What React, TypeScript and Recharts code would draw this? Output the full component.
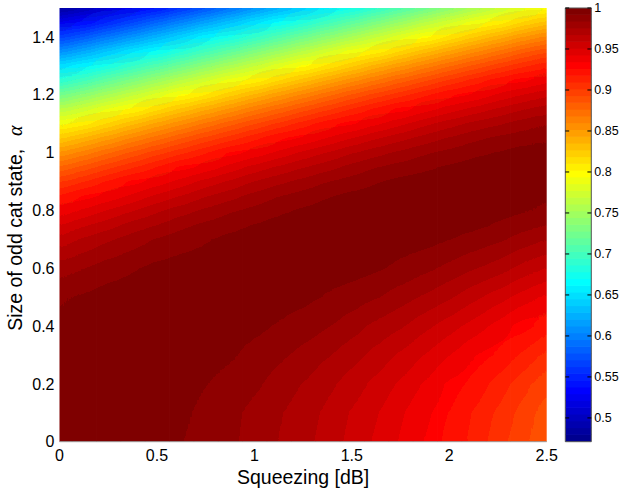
import React from "react";
import { ComposedChart, XAxis, YAxis, ReferenceArea, ReferenceLine, Label } from "recharts";

// ---- data (fidelity vs squeezing [dB] and cat size alpha) ----
const squeezingDb = [0, 0.125, 0.25, 0.375, 0.5, 0.625, 0.75, 0.875, 1, 1.125, 1.25, 1.375, 1.5, 1.625, 1.75, 1.875, 2, 2.125, 2.25, 2.375, 2.5];
const catAlpha = [0, 0.1, 0.2, 0.3, 0.4, 0.5, 0.6, 0.7, 0.75, 0.8, 0.85, 0.9, 0.95, 1, 1.05, 1.1, 1.15, 1.2, 1.25, 1.3, 1.35, 1.4, 1.45, 1.5];

const fidelityAt000 = [1.000, 1.000, 0.999, 0.997, 0.995, 0.992, 0.989, 0.985, 0.980, 0.975, 0.970, 0.963, 0.956, 0.949, 0.941, 0.933, 0.924, 0.915, 0.905, 0.895, 0.885];
const fidelityAt010 = [1.000, 1.000, 0.999, 0.998, 0.996, 0.993, 0.990, 0.986, 0.981, 0.976, 0.971, 0.965, 0.958, 0.951, 0.943, 0.935, 0.926, 0.917, 0.908, 0.898, 0.887];
const fidelityAt020 = [1.000, 1.000, 1.000, 0.999, 0.997, 0.995, 0.992, 0.989, 0.985, 0.980, 0.975, 0.969, 0.963, 0.956, 0.949, 0.941, 0.932, 0.924, 0.914, 0.905, 0.894];
const fidelityAt030 = [0.999, 1.000, 1.000, 1.000, 0.999, 0.997, 0.995, 0.993, 0.989, 0.985, 0.981, 0.976, 0.970, 0.964, 0.957, 0.950, 0.942, 0.934, 0.925, 0.916, 0.906];
const fidelityAt040 = [0.996, 0.998, 0.999, 1.000, 1.000, 0.999, 0.998, 0.997, 0.994, 0.991, 0.988, 0.984, 0.979, 0.973, 0.968, 0.961, 0.954, 0.947, 0.939, 0.930, 0.921];
const fidelityAt050 = [0.990, 0.993, 0.996, 0.998, 0.999, 1.000, 1.000, 1.000, 0.998, 0.997, 0.994, 0.991, 0.988, 0.984, 0.979, 0.974, 0.968, 0.961, 0.954, 0.947, 0.939];
const fidelityAt060 = [0.979, 0.983, 0.988, 0.991, 0.994, 0.997, 0.998, 0.999, 1.000, 1.000, 0.999, 0.998, 0.996, 0.993, 0.990, 0.986, 0.981, 0.976, 0.971, 0.964, 0.958];
const fidelityAt070 = [0.961, 0.968, 0.974, 0.979, 0.984, 0.988, 0.991, 0.994, 0.997, 0.998, 0.999, 1.000, 1.000, 0.999, 0.997, 0.995, 0.992, 0.989, 0.985, 0.980, 0.975];
const fidelityAt075 = [0.949, 0.957, 0.963, 0.970, 0.975, 0.981, 0.985, 0.989, 0.992, 0.995, 0.997, 0.999, 0.999, 1.000, 0.999, 0.998, 0.996, 0.994, 0.991, 0.987, 0.983];
const fidelityAt080 = [0.935, 0.943, 0.951, 0.958, 0.965, 0.971, 0.977, 0.982, 0.986, 0.990, 0.993, 0.996, 0.998, 0.999, 0.999, 0.999, 0.999, 0.997, 0.995, 0.993, 0.989];
const fidelityAt085 = [0.918, 0.927, 0.936, 0.944, 0.952, 0.959, 0.966, 0.972, 0.978, 0.983, 0.987, 0.991, 0.994, 0.996, 0.998, 0.999, 0.999, 0.999, 0.998, 0.996, 0.994];
const fidelityAt090 = [0.898, 0.909, 0.919, 0.928, 0.937, 0.945, 0.953, 0.960, 0.967, 0.973, 0.978, 0.983, 0.987, 0.991, 0.994, 0.996, 0.997, 0.998, 0.999, 0.998, 0.997];
const fidelityAt095 = [0.876, 0.887, 0.898, 0.908, 0.918, 0.928, 0.936, 0.945, 0.953, 0.960, 0.966, 0.972, 0.978, 0.983, 0.987, 0.990, 0.993, 0.995, 0.997, 0.998, 0.998];
const fidelityAt100 = [0.851, 0.863, 0.875, 0.886, 0.897, 0.907, 0.917, 0.927, 0.936, 0.944, 0.952, 0.959, 0.966, 0.972, 0.977, 0.982, 0.986, 0.990, 0.992, 0.995, 0.996];
const fidelityAt105 = [0.823, 0.836, 0.848, 0.861, 0.872, 0.884, 0.895, 0.905, 0.915, 0.925, 0.934, 0.942, 0.950, 0.958, 0.964, 0.970, 0.976, 0.981, 0.985, 0.988, 0.991];
const fidelityAt110 = [0.792, 0.806, 0.819, 0.832, 0.845, 0.857, 0.869, 0.881, 0.892, 0.903, 0.913, 0.923, 0.932, 0.940, 0.948, 0.956, 0.963, 0.969, 0.974, 0.979, 0.983];
const fidelityAt115 = [0.759, 0.773, 0.787, 0.801, 0.815, 0.828, 0.841, 0.853, 0.866, 0.877, 0.889, 0.899, 0.910, 0.920, 0.929, 0.938, 0.946, 0.953, 0.960, 0.966, 0.972];
const fidelityAt120 = [0.723, 0.738, 0.753, 0.767, 0.781, 0.796, 0.809, 0.823, 0.836, 0.849, 0.861, 0.873, 0.885, 0.896, 0.906, 0.916, 0.925, 0.934, 0.943, 0.950, 0.957];
const fidelityAt125 = [0.685, 0.700, 0.716, 0.731, 0.746, 0.761, 0.775, 0.789, 0.803, 0.817, 0.830, 0.843, 0.856, 0.868, 0.880, 0.891, 0.902, 0.912, 0.922, 0.931, 0.939];
const fidelityAt130 = [0.646, 0.661, 0.677, 0.693, 0.708, 0.723, 0.739, 0.754, 0.768, 0.783, 0.797, 0.811, 0.824, 0.838, 0.850, 0.863, 0.875, 0.886, 0.897, 0.907, 0.917];
const fidelityAt135 = [0.605, 0.621, 0.637, 0.653, 0.668, 0.684, 0.700, 0.715, 0.731, 0.746, 0.761, 0.776, 0.790, 0.804, 0.818, 0.831, 0.844, 0.857, 0.869, 0.881, 0.892];
const fidelityAt140 = [0.563, 0.579, 0.595, 0.611, 0.627, 0.643, 0.660, 0.676, 0.691, 0.707, 0.723, 0.738, 0.753, 0.768, 0.783, 0.797, 0.811, 0.825, 0.838, 0.851, 0.863];
const fidelityAt145 = [0.521, 0.537, 0.553, 0.569, 0.586, 0.602, 0.618, 0.634, 0.650, 0.667, 0.683, 0.699, 0.714, 0.730, 0.745, 0.761, 0.775, 0.790, 0.804, 0.818, 0.831];
const fidelityAt150 = [0.480, 0.495, 0.511, 0.527, 0.543, 0.559, 0.576, 0.592, 0.609, 0.625, 0.641, 0.658, 0.674, 0.690, 0.706, 0.722, 0.738, 0.753, 0.768, 0.783, 0.797];

const fidelityRows = [
  fidelityAt000, fidelityAt010, fidelityAt020, fidelityAt030, fidelityAt040, fidelityAt050,
  fidelityAt060, fidelityAt070, fidelityAt075, fidelityAt080, fidelityAt085, fidelityAt090,
  fidelityAt095, fidelityAt100, fidelityAt105, fidelityAt110, fidelityAt115, fidelityAt120,
  fidelityAt125, fidelityAt130, fidelityAt135, fidelityAt140, fidelityAt145, fidelityAt150,
];

const xTicks = [0, 0.5, 1, 1.5, 2, 2.5];
const yTicks = [0, 0.2, 0.4, 0.6, 0.8, 1, 1.2, 1.4];
const colorbarTicks = [0.5, 0.55, 0.6, 0.65, 0.7, 0.75, 0.8, 0.85, 0.9, 0.95, 1];
const colorMin = 0.471;
const colorMax = 1;
const xDomain: [number, number] = [0, 2.5];
const yDomain: [number, number] = [0, 1.5];
const colorbarX: [number, number] = [0, 1];
const colorbarTickFraction = 0.15;

// ---- MATLAB jet(64) colormap ----
const N_COLORS = 64;
function jetU(j: number) {
  if (j <= 0 || j >= 48) return 0;
  if (j <= 16) return j / 16;
  if (j <= 31) return 1;
  return (48 - j) / 16;
}
function jetAt(x: number) {
  // x: (possibly fractional) 0-based index into jet(64)
  const k = Math.max(0, Math.min(N_COLORS - 1, x)) + 1;
  const r = Math.round(jetU(k - 24) * 255);
  const g = Math.round(jetU(k - 8) * 255);
  const b = Math.round(jetU(k + 8) * 255);
  return `rgb(${r},${g},${b})`;
}
// continuous colour, shifted half a level so that snapping to 1/16 steps reproduces contourf bands
function fieldColor(v: number) {
  const t = (v - colorMin) / (colorMax - colorMin);
  return jetAt(t * N_COLORS - 0.5);
}
// jet channels move in steps of 1/16: snap each channel to the nearest step (contour-band look)
const channelSteps = Array.from({ length: 32 }, (_, k) => Math.round((k + 0.5) / 2) / 16).join(" ");

const FONT = "'Liberation Sans', Arial, Helvetica, sans-serif";
const PLOT_MARGIN = { top: 8, right: 74.3, bottom: 46.3, left: 59.5 };

const columns = squeezingDb.map((s, j) => {
  const left = j === 0 ? xDomain[0] : (squeezingDb[j - 1] + s) / 2;
  const right = j === squeezingDb.length - 1 ? xDomain[1] : (s + squeezingDb[j + 1]) / 2 + 0.004;
  return { j, left, right };
});

const colorbarBands = Array.from({ length: N_COLORS }, (_, k) => ({
  k,
  y1: colorMin + (k * (colorMax - colorMin)) / N_COLORS,
  y2: Math.min(colorMax, colorMin + ((k + 1) * (colorMax - colorMin)) / N_COLORS + 0.0008),
}));

const XLabel = (props: any) => {
  const vb = props.viewBox || {};
  return (
    <text x={vb.x + vb.width / 2} y={vb.y + 42.6} textAnchor="middle" fontSize={19.5} fontFamily={FONT} fill="#000">
      Squeezing [dB]
    </text>
  );
};

const YLabel = (props: any) => {
  const vb = props.viewBox || {};
  const baselineX = vb.x + 21.7;
  const mid = vb.y + vb.height / 2;
  return (
    <g>
      <text x={-(mid + 106)} y={baselineX} textAnchor="start" fontSize={19.5} fontFamily={FONT} fill="#000" transform="rotate(-90)">
        Size of odd cat state,
      </text>
      <text x={-(mid - 94)} y={baselineX} textAnchor="middle" fontSize={20} fontStyle="italic" fontFamily="'Liberation Serif', 'DejaVu Serif', serif" fill="#000" transform="rotate(-90)">
        α
      </text>
    </g>
  );
};

export default function App() {
  return (
    <div style={{ position: "absolute", left: 0, top: 0, width: 621, height: 488, background: "#fff", fontFamily: FONT }}>
      <svg width={0} height={0} style={{ position: "absolute" }}>
        <defs>
          <filter id="heatSmooth" colorInterpolationFilters="sRGB">
            <feGaussianBlur in="SourceGraphic" stdDeviation="9 1" result="blurred" />
            <feComponentTransfer in="blurred" result="banded">
              <feFuncR type="discrete" tableValues={channelSteps} />
              <feFuncG type="discrete" tableValues={channelSteps} />
              <feFuncB type="discrete" tableValues={channelSteps} />
              <feFuncA type="table" tableValues="1 1" />
            </feComponentTransfer>
            <feComposite in="banded" in2="SourceAlpha" operator="in" />
          </filter>
        </defs>
      </svg>
      {/* heatmap layer */}
      <div style={{ position: "absolute", left: 0, top: 0, filter: "url(#heatSmooth)" }}>
        <ComposedChart width={621} height={488} margin={PLOT_MARGIN}>
          <defs>
            {columns.map((c) => (
              <linearGradient key={c.j} id={`fidCol${c.j}`} x1="0" y1="0" x2="0" y2="1">
                {catAlpha
                  .map((a, i) => ({ a, v: fidelityRows[i][c.j] }))
                  .reverse()
                  .map((p, i) => (
                    <stop key={i} offset={(yDomain[1] - p.a) / (yDomain[1] - yDomain[0])} stopColor={fieldColor(p.v)} />
                  ))}
              </linearGradient>
            ))}
          </defs>
          <XAxis type="number" dataKey="s" domain={xDomain} allowDataOverflow hide />
          <YAxis type="number" domain={yDomain} allowDataOverflow hide />
          {columns.map((c) => (
            <ReferenceArea
              key={c.j}
              x1={c.left}
              x2={c.right}
              y1={yDomain[0]}
              y2={yDomain[1]}
              fill={`url(#fidCol${c.j})`}
              fillOpacity={1}
              stroke="none"
              ifOverflow="visible"
            />
          ))}
        </ComposedChart>
      </div>
      {/* axes layer */}
      <div style={{ position: "absolute", left: 0, top: 0 }}>
        <ComposedChart width={621} height={488} margin={{ top: 8, right: 74.3, bottom: 0, left: 0 }}>
          <XAxis
            type="number"
            dataKey="s"
            domain={xDomain}
            ticks={xTicks}
            interval={0}
            allowDataOverflow
            height={46.3}
            tickLine={false}
            axisLine={{ stroke: "#9a9a9a", strokeWidth: 1 }}
            tickSize={6}
            tickMargin={2}
            tick={{ fontSize: 16, fill: "#000", fontFamily: FONT }}
          >
            <Label content={XLabel} />
          </XAxis>
          <YAxis
            type="number"
            domain={yDomain}
            ticks={yTicks}
            interval={0}
            allowDataOverflow
            width={59.5}
            axisLine={false}
            tickLine={false}
            tickSize={3}
            tickMargin={2}
            tick={{ fontSize: 16, fill: "#000", fontFamily: FONT }}
          >
            <Label content={YLabel} />
          </YAxis>
        </ComposedChart>
      </div>
      {/* colorbar */}
      <div style={{ position: "absolute", left: 0, top: 0 }}>
        <ComposedChart width={621} height={488} margin={{ top: 8, right: 0, bottom: 46.3, left: 565.3 }}>
          <XAxis type="number" dataKey="x" domain={colorbarX} allowDataOverflow hide />
          <YAxis
            yAxisId="cb"
            orientation="right"
            width={29.7}
            type="number"
            domain={[colorMin, colorMax]}
            ticks={colorbarTicks}
            interval={0}
            allowDataOverflow
            axisLine={false}
            tickLine={false}
            tickSize={0}
            tickMargin={3}
            tick={{ fontSize: 12.5, fill: "#000", fontFamily: FONT }}
          />
          {colorbarBands.map((b) => (
            <ReferenceArea
              key={b.k}
              yAxisId="cb"
              x1={colorbarX[0]}
              x2={colorbarX[1]}
              y1={b.y1}
              y2={b.y2}
              fill={jetAt(b.k)}
              fillOpacity={1}
              stroke="none"
              ifOverflow="visible"
            />
          ))}
          {colorbarTicks.map((t) => (
            <ReferenceLine
              key={`l${t}`}
              yAxisId="cb"
              segment={[{ x: colorbarX[0], y: t }, { x: colorbarX[0] + colorbarTickFraction, y: t }]}
              stroke="#000"
              strokeWidth={1}
              ifOverflow="visible"
            />
          ))}
          {colorbarTicks.map((t) => (
            <ReferenceLine
              key={`r${t}`}
              yAxisId="cb"
              segment={[{ x: colorbarX[1] - colorbarTickFraction, y: t }, { x: colorbarX[1], y: t }]}
              stroke="#000"
              strokeWidth={1}
              ifOverflow="visible"
            />
          ))}
          <ReferenceArea
            yAxisId="cb"
            x1={colorbarX[0]}
            x2={colorbarX[1]}
            y1={colorMin}
            y2={colorMax}
            fill="none"
            fillOpacity={0}
            stroke="#555"
            strokeWidth={1}
            ifOverflow="visible"
          />
        </ComposedChart>
      </div>
    </div>
  );
}
